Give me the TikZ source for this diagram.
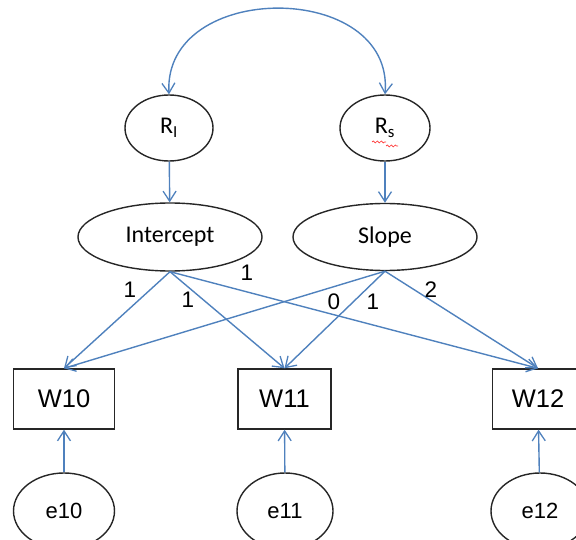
\documentclass[tikz,border=0pt]{standalone}
\usepackage{fontspec}
\setmainfont{Liberation Sans}
\newfontfamily\calfont{Carlito}
\usetikzlibrary{shapes.geometric,arrows.meta,decorations.pathmorphing}
\definecolor{lnblue}{RGB}{79,129,189}
\tikzset{
  lat/.style={ellipse,draw=black!85,line width=1.4pt,inner sep=0pt,font=\calfont\fontsize{24}{27}\selectfont},
  err/.style={ellipse,draw=black!85,line width=1.4pt,inner sep=0pt,minimum height=76pt,font=\fontsize{22}{25}\selectfont},
  obs/.style={rectangle,draw=black!85,line width=1.4pt,inner sep=0pt,minimum height=60pt,font=\fontsize{25.5}{29}\selectfont},
  path/.style={draw=lnblue,line width=1.4pt,-{Straight Barb[length=10pt,width=13pt,line width=1.3pt]}},
  lbl/.style={inner sep=0pt,font=\fontsize{22.5}{25}\selectfont}
}
\begin{document}
\begin{tikzpicture}[x=1pt,y=-1pt]
\useasboundingbox (0,0) rectangle (576,540);
\node[lat,minimum width=88pt,minimum height=66pt] (RI) at (169,128) {R\textsubscript{I}};
\node[lat,minimum width=90pt,minimum height=66pt] (RS) at (385,128) {R\textsubscript{s}};
\node[lat,minimum width=184pt,minimum height=68pt] (I) at (170,237) {Intercept};
\node[lat,minimum width=184pt,minimum height=67pt] (S) at (385,237) {Slope};
\node[obs,minimum width=101pt] (W10) at (64,399) {W10};
\node[obs,minimum width=93pt] (W11) at (284.5,399) {W11};
\node[obs,minimum width=91pt] (W12) at (538,399) {W12};
\node[err,minimum width=101pt] (e10) at (64,511) {e10};
\node[err,minimum width=96pt] (e11) at (285,511) {e11};
\node[err,minimum width=98pt] (e12) at (540,511) {e12};
% spell-check squiggle under R_s
\draw[red!80,line width=0.7pt,decorate,decoration={snake,amplitude=1pt,segment length=4pt}] (372,142) -- (386,142);
\draw[red!80,line width=0.7pt,decorate,decoration={snake,amplitude=1pt,segment length=4pt}] (386,146) -- (398,146);
% correlation
\draw[draw=lnblue,line width=1.4pt,{Straight Barb[length=10pt,width=13pt,line width=1.3pt]}-{Straight Barb[length=10pt,width=13pt,line width=1.3pt]}]
  (RI.north) .. controls (163,-20) and (394,-20) .. (RS.north);
\draw[path] (RI) -- (I);
\draw[path] (RS) -- (S);
\draw[path] (I.south) -- (W10.north);
\draw[path] (I.south) -- (W11.north);
\draw[path] (I.south) -- (W12.north);
\draw[path] (S.south) -- (W10.north);
\draw[path] (S.south) -- (W11.north);
\draw[path] (S.south) -- (W12.north);
\draw[path] (e10) -- (W10);
\draw[path] (e11) -- (W11);
\draw[path] (e12) -- (W12);
\node[lbl] (l1) at (130,290) {1};
\node[lbl] (l2) at (188,300) {1};
\node[lbl] (l3) at (247,273) {1};
\node[lbl] (l4) at (334,302) {0};
\node[lbl] (l5) at (373,302) {1};
\node[lbl] (l6) at (431,290) {2};
\end{tikzpicture}
\end{document}
